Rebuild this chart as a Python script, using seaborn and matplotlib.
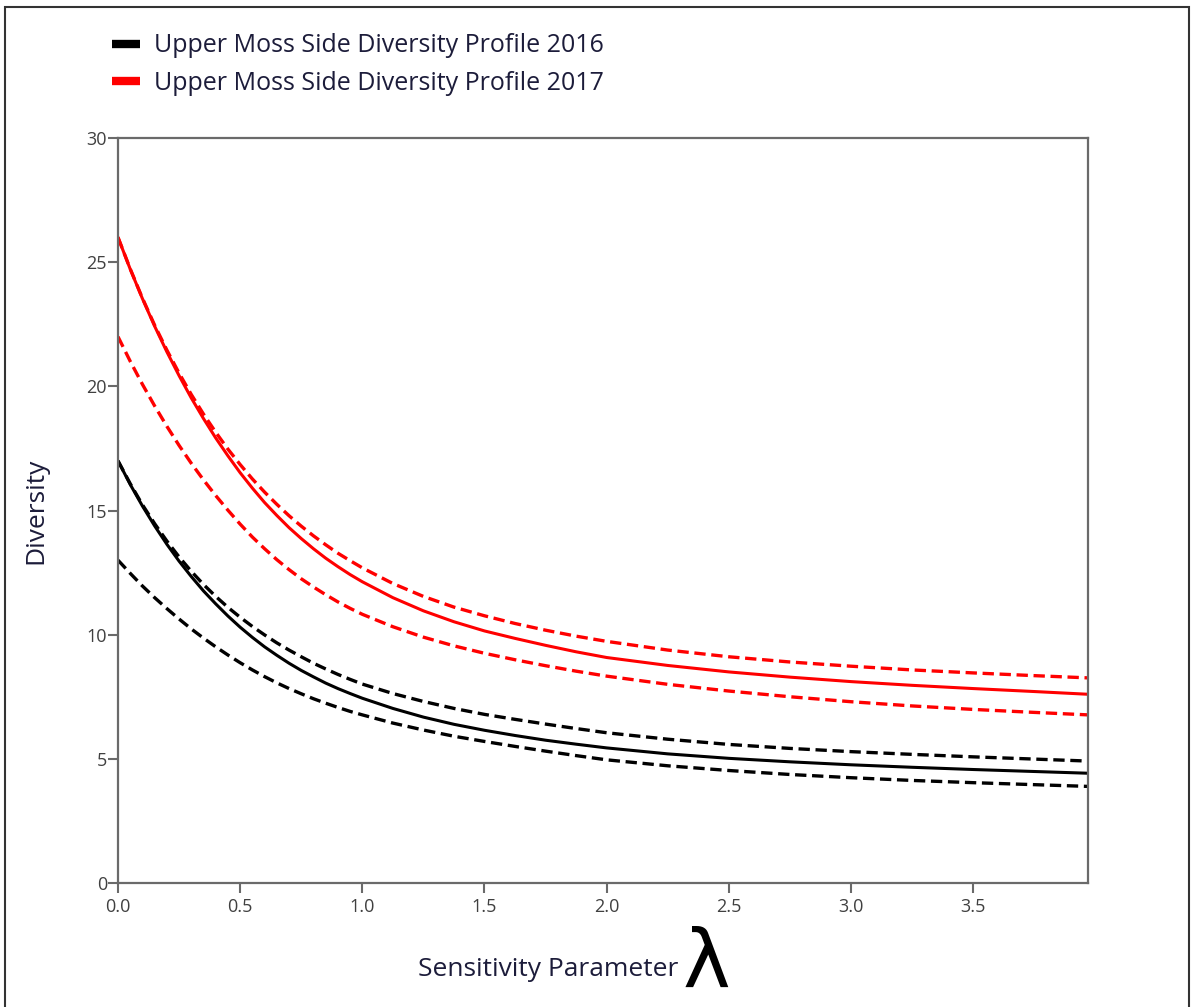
import numpy as np
import pandas as pd
import matplotlib
matplotlib.use("Agg")
import matplotlib.pyplot as plt
from matplotlib.lines import Line2D
from matplotlib.patches import Rectangle
import seaborn as sns

# ---- data ----
lam = [0.0, 0.05, 0.1, 0.15, 0.2, 0.25, 0.3, 0.35, 0.4, 0.45, 0.5,
       0.55, 0.6, 0.65, 0.7, 0.75, 0.8, 0.85, 0.9, 0.95, 1.0,
       1.125, 1.25, 1.375, 1.5, 1.625, 1.75, 1.875, 2.0,
       2.25, 2.5, 2.75, 3.0, 3.25, 3.5, 3.75, 3.97]

d2016 = [17.0, 16.05, 15.18, 14.38, 13.64, 12.96, 12.34, 11.76, 11.24, 10.75, 10.30,
         9.89, 9.51, 9.17, 8.85, 8.56, 8.30, 8.05, 7.83, 7.63, 7.44,
         7.03, 6.68, 6.39, 6.15, 5.94, 5.75, 5.59, 5.44,
         5.20, 5.02, 4.88, 4.76, 4.66, 4.57, 4.49, 4.42]
d2016_hi = [17.0, 16.08, 15.23, 14.47, 13.77, 13.13, 12.55, 12.02, 11.54, 11.10, 10.70,
            10.33, 9.99, 9.67, 9.38, 9.11, 8.85, 8.62, 8.40, 8.20, 8.01,
            7.63, 7.31, 7.03, 6.79, 6.59, 6.40, 6.22, 6.05,
            5.79, 5.58, 5.42, 5.29, 5.18, 5.08, 4.99, 4.91]
d2016_lo = [13.0, 12.47, 11.96, 11.49, 11.05, 10.63, 10.23, 9.86, 9.51, 9.18, 8.87,
            8.58, 8.31, 8.06, 7.83, 7.62, 7.42, 7.24, 7.07, 6.91, 6.77,
            6.44, 6.16, 5.91, 5.70, 5.50, 5.31, 5.13, 4.96,
            4.72, 4.53, 4.37, 4.24, 4.13, 4.04, 3.96, 3.89]

d2017 = [26.0, 24.72, 23.53, 22.42, 21.39, 20.43, 19.53, 18.70, 17.92, 17.20, 16.52,
         15.90, 15.32, 14.80, 14.31, 13.87, 13.46, 13.08, 12.74, 12.42, 12.13,
         11.49, 10.96, 10.52, 10.15, 9.85, 9.57, 9.31, 9.08,
         8.76, 8.50, 8.29, 8.11, 7.96, 7.83, 7.71, 7.60]
d2017_hi = [26.0, 24.73, 23.55, 22.46, 21.46, 20.53, 19.67, 18.88, 18.15, 17.47, 16.85,
            16.27, 15.74, 15.25, 14.79, 14.37, 13.98, 13.62, 13.28, 12.98, 12.69,
            12.06, 11.54, 11.11, 10.76, 10.45, 10.18, 9.94, 9.73,
            9.38, 9.11, 8.90, 8.73, 8.58, 8.46, 8.35, 8.26]
d2017_lo = [22.0, 21.01, 20.08, 19.21, 18.39, 17.62, 16.90, 16.23, 15.60, 15.01, 14.45,
            13.93, 13.46, 13.02, 12.62, 12.25, 11.92, 11.61, 11.32, 11.06, 10.82,
            10.32, 9.90, 9.55, 9.25, 8.99, 8.75, 8.53, 8.33,
            8.00, 7.73, 7.50, 7.30, 7.13, 6.99, 6.87, 6.77]

years = ["Upper Moss Side Diversity Profile 2016", "Upper Moss Side Diversity Profile 2017"]
x_ticks = [0.0, 0.5, 1.0, 1.5, 2.0, 2.5, 3.0, 3.5]
y_ticks = [0, 5, 10, 15, 20, 25, 30]

rows = []
for yr, series in zip(years, [(d2016, d2016_lo, d2016_hi), (d2017, d2017_lo, d2017_hi)]):
    for kind, vals in zip(["estimate", "lower", "upper"], series):
        for xv, v in zip(lam, vals):
            rows.append({"lam": xv, "D": v, "year": yr, "kind": kind})
df = pd.DataFrame(rows)

sns.set_style("white")
plt.rcParams['font.family'] = ['Open Sans', 'DejaVu Sans']

fig = plt.figure(figsize=(11.94, 10.07), dpi=100)
ax = fig.add_axes([118/1194, 1-883/1007, (1088-118)/1194, (883-138)/1007])

palette = {years[0]: "black", years[1]: "#ff0000"}
dashes = {"estimate": "", "lower": (3.4, 1.7), "upper": (3.4, 1.7)}
for kind, lw in [("lower", 2.4), ("upper", 2.4), ("estimate", 2.2)]:
    sub = df[df["kind"] == kind]
    sns.lineplot(data=sub, x="lam", y="D", hue="year", style="kind", dashes=dashes,
                 palette=palette, ax=ax, legend=False, linewidth=lw, estimator=None,
                 sort=True)

ax.set_xlim(0, 3.97)
ax.set_ylim(0, 30)
ax.set_xticks(x_ticks)
ax.set_xticklabels([f"{t:.1f}" for t in x_ticks])
ax.set_yticks(y_ticks)
ax.set_yticklabels([str(t) for t in y_ticks])
for sp in ax.spines.values():
    sp.set_visible(True)
    sp.set_color("#6a6a6a")
    sp.set_linewidth(1.6)
ax.tick_params(axis="both", direction="out", length=7, width=1.5, color="#6a6a6a",
               labelsize=13, labelcolor="#404040", bottom=True, left=True)
ax.tick_params(axis="x", pad=4)
ax.tick_params(axis="y", pad=1)
ax.set_xlabel("")
ax.set_ylabel("Diversity", fontsize=19, color="#1c1c3a")
ax.yaxis.set_label_coords((48 - 118) / 970, 0.5)

fig.text(418/1194, 1-970/1007, "Sensitivity Parameter", fontsize=19, color="#1c1c3a",
         ha="left", va="center")
fig.text(683/1194, 1-1004/1007, "λ", fontsize=58, color="black", ha="left", va="bottom",
         family=["DejaVu Sans"])

# legend
handles = [Line2D([0], [0], color="black", lw=6, solid_capstyle="butt"),
           Line2D([0], [0], color="#ff0000", lw=6, solid_capstyle="butt")]
leg = fig.legend(handles, years, loc="upper left", bbox_to_anchor=(90/1194, 1-11/1007),
                 frameon=False, fontsize=18, handlelength=1.1, handletextpad=0.55,
                 labelspacing=0.5, labelcolor="#1c1c3a")

# outer frame
fig.add_artist(Rectangle((5/1194, -0.05), (1189-5)/1194, 1.05 - 7/1007,
                         transform=fig.transFigure, fill=False, edgecolor="#333333",
                         linewidth=1.5))

fig.savefig("out.png", dpi=100)
